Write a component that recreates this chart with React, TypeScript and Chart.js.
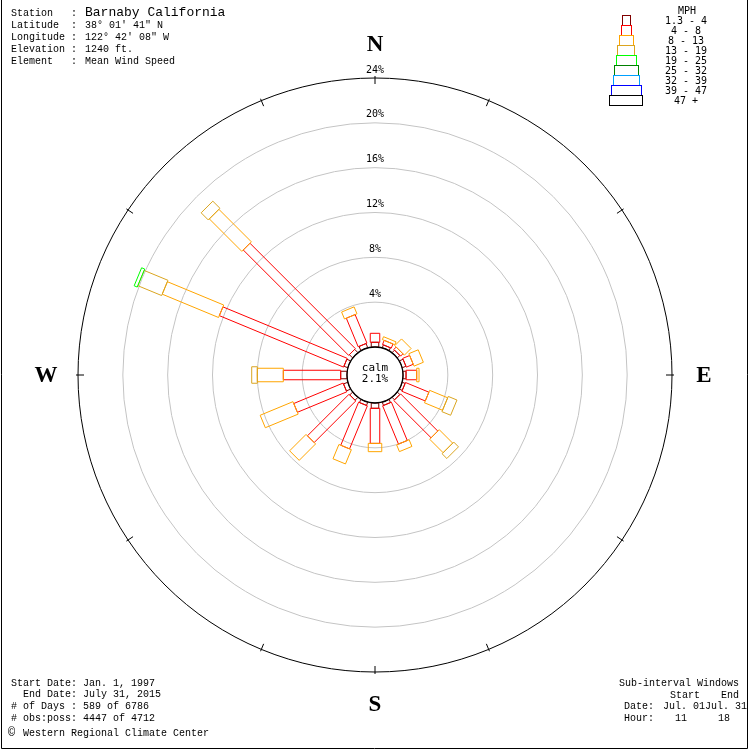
import React, { useEffect, useRef } from 'react';
import { Chart, registerables } from 'chart.js';

Chart.register(...registerables);

// ---- data ----
const directions = ['N', 'NNE', 'NE', 'ENE', 'E', 'ESE', 'SE', 'SSE', 'S', 'SSW', 'SW', 'WSW', 'W', 'WNW', 'NW', 'NNW'];
const speedClasses = ['1.3 - 4', '4 - 8', '8 - 13', '13 - 19', '19 - 25', '25 - 32', '32 - 39', '39 - 47', '47 +'];
// percent frequency per direction for each speed class (MPH)
const mph1to4 = [0.42, 0.27, 0.30, 0.35, 0.27, 0.27, 0.30, 0.30, 0.47, 0.30, 0.35, 0.40, 0.56, 0.36, 0.40, 0.40];
const mph4to8 = [0.80, 0.40, 0.30, 0.67, 0.95, 2.26, 4.70, 3.70, 3.13, 4.16, 5.25, 4.77, 5.12, 12.0, 13.3, 2.76];
const mph8to13 = [0, 0.28, 0.85, 0.90, 0.21, 1.74, 1.70, 0.65, 0.74, 1.38, 2.07, 3.17, 2.32, 5.44, 4.10, 0.67];
const mph13to19 = [0, 0, 0, 0, 0, 0.84, 0.60, 0, 0, 0, 0, 0, 0.50, 2.30, 0.90, 0];
const mph19to25 = [0, 0, 0, 0, 0, 0, 0, 0, 0, 0, 0, 0, 0, 0.30, 0, 0];
const mph25to32 = [0, 0, 0, 0, 0, 0, 0, 0, 0, 0, 0, 0, 0, 0, 0, 0];
const mph32to39 = [0, 0, 0, 0, 0, 0, 0, 0, 0, 0, 0, 0, 0, 0, 0, 0];
const mph39to47 = [0, 0, 0, 0, 0, 0, 0, 0, 0, 0, 0, 0, 0, 0, 0, 0];
const mph47plus = [0, 0, 0, 0, 0, 0, 0, 0, 0, 0, 0, 0, 0, 0, 0, 0];
const ringTicks = [4, 8, 12, 16, 20, 24];
const calmPercent = 2.1;

const headerLabels = ['Station   :', 'Latitude  :', 'Longitude :', 'Elevation :', 'Element   :'];
const headerValues = ['Barnaby California', "38° 01' 41\" N", "122° 42' 08\" W", '1240 ft.', 'Mean Wind Speed'];
const footerLeft = ['Start Date: Jan. 1, 1997', '  End Date: July 31, 2015', '# of Days : 589 of 6786', '# obs:poss: 4447 of 4712'];
const creditText = 'Western Regional Climate Center';
const windowTitle = 'Sub-interval Windows';
const windowStartEnd = ['Start', 'End'];
const windowDates = ['Jul. 01', 'Jul. 31'];
const windowHours = ['11', '18'];
const compassLetters = ['N', 'E', 'S', 'W'];
// compass tick marks on the outer ring (in direction-index units)
const outerTickIndex = [0, 1, 2.5, 4, 5.5, 7, 8, 9, 10.5, 12, 13.5, 15];

// ---- styles ----
const classColors = ['#800000', '#ff0000', '#ffa500', '#daa520', '#00ff00', '#008000', '#00a0ff', '#0000ff', '#000000'];
const classWidths = [7.5, 9.5, 13.5, 16.5, 19.5, 23, 25.5, 29.5, 32.5];
const MONO = "'Liberation Mono', monospace";
const SMONO = "'DejaVu Sans Mono', monospace";

const roseSeries = [mph1to4, mph4to8, mph8to13, mph13to19, mph19to25, mph25to32, mph32to39, mph39to47, mph47plus];

const rosePlugin = {
  id: 'windrose',
  afterDatasetsDraw(chart: any) {
    const ctx = chart.ctx as CanvasRenderingContext2D;
    const sc = chart.scales.r;
    const n = chart.data.labels.length;
    ctx.save();
    ctx.lineWidth = 1;
    // petals
    for (let i = 0; i < n; i++) {
      let cum = 0;
      chart.data.datasets.forEach((ds: any, k: number) => {
        const v = ds.data[i];
        if (!v) return;
        const a = sc.getPointPositionForValue(i, cum);
        const b = sc.getPointPositionForValue(i, cum + v);
        cum += v;
        const dx = b.x - a.x, dy = b.y - a.y;
        const L = Math.hypot(dx, dy) || 1;
        const nx = -dy / L, ny = dx / L;
        const hw = classWidths[k] / 2;
        ctx.strokeStyle = ds.borderColor;
        ctx.beginPath();
        ctx.moveTo(a.x + nx * hw, a.y + ny * hw);
        ctx.lineTo(b.x + nx * hw, b.y + ny * hw);
        ctx.lineTo(b.x - nx * hw, b.y - ny * hw);
        ctx.lineTo(a.x - nx * hw, a.y - ny * hw);
        ctx.closePath();
        ctx.stroke();
      });
    }
    // calm circle
    const r0 = sc.getDistanceFromCenterForValue(0);
    ctx.strokeStyle = '#000';
    ctx.lineWidth = 1.3;
    ctx.beginPath();
    ctx.arc(sc.xCenter, sc.yCenter, r0, 0, Math.PI * 2);
    ctx.stroke();
    ctx.fillStyle = '#000';
    ctx.font = `11px ${SMONO}`;
    ctx.textAlign = 'center';
    ctx.textBaseline = 'middle';
    ctx.fillText('calm', sc.xCenter, sc.yCenter - 7);
    ctx.fillText(`${calmPercent.toFixed(1)}%`, sc.xCenter, sc.yCenter + 4);

    // ring labels
    ctx.font = `10px ${SMONO}`;
    ringTicks.forEach((t) => {
      const p = sc.getPointPositionForValue(0, t);
      ctx.fillText(`${t}%`, p.x, p.y - 8);
    });

    // outer ticks
    ctx.lineWidth = 1;
    const outer = sc.getDistanceFromCenterForValue(ringTicks[ringTicks.length - 1]);
    outerTickIndex.forEach((idx) => {
      const p1 = sc.getPointPosition(idx, outer - 6);
      const p2 = sc.getPointPosition(idx, outer + 2);
      ctx.beginPath();
      ctx.moveTo(p1.x, p1.y);
      ctx.lineTo(p2.x, p2.y);
      ctx.stroke();
    });

    // compass letters
    ctx.font = `bold 23px 'Liberation Serif', serif`;
    compassLetters.forEach((c, j) => {
      const p = sc.getPointPosition(j * 4, outer + 32);
      ctx.fillText(c, p.x, p.y + (j === 0 ? -1 : 1));
    });
    ctx.restore();
  },
  afterDraw(chart: any) {
    const ctx = chart.ctx as CanvasRenderingContext2D;
    const W = chart.width, H = chart.height;
    ctx.save();
    ctx.fillStyle = '#000';
    ctx.textBaseline = 'middle';
    ctx.textAlign = 'left';
    // header
    headerLabels.forEach((lab, i) => {
      const y = 13 + i * 12;
      ctx.font = `10px ${MONO}`;
      ctx.fillText(lab, 11, y);
      ctx.font = i === 0 ? `13px ${MONO}` : `10px ${MONO}`;
      ctx.fillText(headerValues[i], 85, y);
    });
    // footer left
    ctx.font = `10px ${MONO}`;
    footerLeft.forEach((t, i) => ctx.fillText(t, 11, 683 + i * 11.7));
    ctx.font = `12px ${MONO}`;
    ctx.fillText('©', 8, 733);
    ctx.font = `10px ${MONO}`;
    ctx.fillText(creditText, 23, 733);
    // footer right
    ctx.fillText(windowTitle, 619, 683);
    ctx.fillText(windowStartEnd[0], 670, 695);
    ctx.fillText(windowStartEnd[1], 721, 695);
    ctx.fillText('Date:', 624, 706.5);
    ctx.fillText(windowDates[0] + windowDates[1], 663, 706.5);
    ctx.fillText('Hour:', 624, 718);
    ctx.fillText(windowHours[0], 675, 718);
    ctx.fillText(windowHours[1], 718, 718);

    // legend
    ctx.font = `10px ${SMONO}`;
    ctx.textAlign = 'center';
    ctx.fillText('MPH', 687, 11);
    ctx.lineWidth = 1;
    speedClasses.forEach((lab, k) => {
      const w = classWidths[k] + 0.5;
      const top = 15 + k * 10;
      ctx.strokeStyle = classColors[k];
      ctx.strokeRect(Math.round(625.5 - w / 2) + 0.5, top + 0.5, Math.round(w), 10);
      ctx.fillText(lab, 686, top + 6);
    });

    // frame
    ctx.strokeStyle = '#000';
    ctx.beginPath();
    ctx.moveTo(1.5, 0);
    ctx.lineTo(1.5, H - 1.5);
    ctx.lineTo(W - 2.5, H - 1.5);
    ctx.lineTo(W - 2.5, 0);
    ctx.stroke();
    ctx.restore();
  },
};

export default function App() {
  const ref = useRef<HTMLCanvasElement | null>(null);
  useEffect(() => {
    if (!ref.current) return;
    const chart = new Chart(ref.current, {
      type: 'radar',
      data: {
        labels: directions,
        datasets: roseSeries.map((d, k) => ({
          label: speedClasses[k],
          data: d,
          borderColor: classColors[k],
          backgroundColor: 'transparent',
          borderWidth: 0,
          pointRadius: 0,
          showLine: false,
          fill: false,
        })),
      },
      options: {
        animation: false,
        responsive: false,
        maintainAspectRatio: false,
        layout: { padding: 78 },
        plugins: { legend: { display: false }, tooltip: { enabled: false } },
        scales: {
          r: {
            min: -2.5,
            max: 24,
            startAngle: 0,
            angleLines: { display: false },
            pointLabels: { display: false },
            ticks: { display: false },
            afterBuildTicks: (scale: any) => {
              scale.ticks = ringTicks.map((v) => ({ value: v }));
            },
            grid: {
              circular: true,
              lineWidth: 1,
              color: (c: any) => (c.tick && c.tick.value === 24 ? '#000000' : '#c4c4c4'),
            },
          },
        },
      },
      plugins: [rosePlugin],
    } as any);
    return () => chart.destroy();
  }, []);
  return (
    <div style={{ position: 'fixed', left: 0, top: 0, width: 750, height: 750, background: '#fff' }}>
      <canvas ref={ref} width={750} height={750} style={{ width: 750, height: 750, display: 'block' }} />
    </div>
  );
}
